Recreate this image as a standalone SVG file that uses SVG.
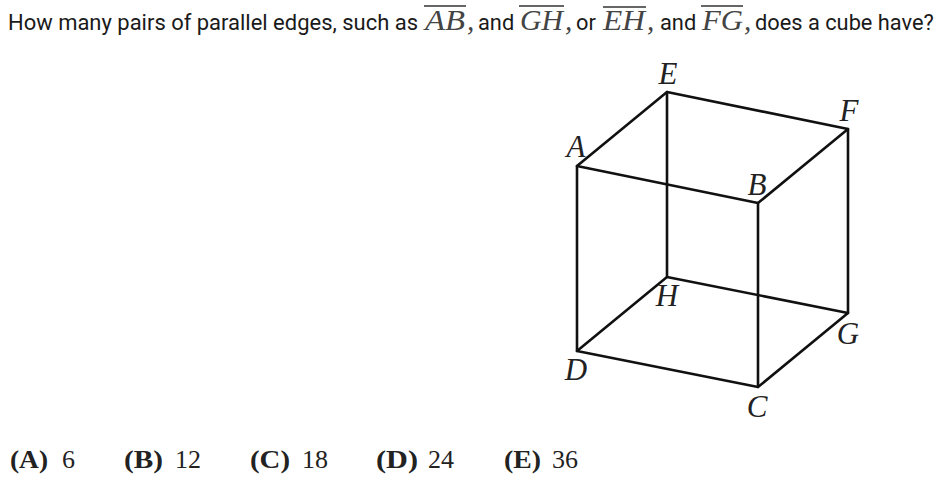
<svg xmlns="http://www.w3.org/2000/svg" width="944" height="482" viewBox="0 0 944 482">
<style>
.q{font-family:Roboto,"Liberation Sans",sans-serif;font-size:21.8px;fill:#1a1a1a}
.m{font-family:"Liberation Serif","Times New Roman",serif;font-style:italic;font-size:29px;fill:#444}
.l{font-family:"Liberation Serif","Times New Roman",serif;font-style:italic;font-size:31px;fill:#222;text-anchor:middle}
.c{font-family:"Liberation Serif","Times New Roman",serif;font-size:26px;fill:#222}
.b{font-weight:bold}
.o{stroke:#333;stroke-width:1.5}
.e{stroke:#111;stroke-width:2.6;stroke-linecap:round;stroke-linejoin:round;fill:none}
</style>
<rect width="944" height="482" fill="#fff"/>
<g id="question">
<text class="q" x="8" y="30" textLength="410" lengthAdjust="spacingAndGlyphs">How many pairs of parallel edges, such as</text>
<text class="m" x="425" y="30" textLength="40" lengthAdjust="spacingAndGlyphs">AB</text><line class="o" x1="424" y1="6" x2="466" y2="6"/>
<text class="m" x="467" y="30">,</text>
<text class="q" x="478" y="30">and</text>
<text class="m" x="520" y="30" textLength="43" lengthAdjust="spacingAndGlyphs">GH</text><line class="o" x1="519" y1="6" x2="564" y2="6"/>
<text class="m" x="565" y="30">,</text>
<text class="q" x="576" y="30">or</text>
<text class="m" x="603" y="30" textLength="42" lengthAdjust="spacingAndGlyphs">EH</text><line class="o" x1="603" y1="7" x2="646" y2="7"/>
<text class="m" x="647" y="30">,</text>
<text class="q" x="660" y="30">and</text>
<text class="m" x="702" y="30" textLength="41" lengthAdjust="spacingAndGlyphs">FG</text><line class="o" x1="701" y1="6" x2="743" y2="6"/>
<text class="m" x="744" y="30">,</text>
<text class="q" x="755" y="30">does a cube have?</text>
</g>
<g id="connectors">
<path class="e" d="M667 92L848 129L758 203L577 166Z"/>
<path class="e" d="M667 277L848 313L758 387L577 351Z"/>
<path class="e" d="M577 166V351M667 92V277M758 203V387M848 129V313"/>
</g>
<g id="node-a"><text class="l" x="576" y="157">A</text></g>
<g id="node-b"><text class="l" x="757" y="195">B</text></g>
<g id="node-c"><text class="l" x="757" y="417">C</text></g>
<g id="node-d"><text class="l" x="576" y="380">D</text></g>
<g id="node-e"><text class="l" x="668" y="84">E</text></g>
<g id="node-f"><text class="l" x="849" y="121">F</text></g>
<g id="node-g"><text class="l" x="848" y="344">G</text></g>
<g id="node-h"><text class="l" x="667" y="306">H</text></g>
<g id="choices">
<text class="c b" x="10" y="468" textLength="38" lengthAdjust="spacingAndGlyphs">(A)</text><text class="c" x="62" y="468">6</text>
<text class="c b" x="124" y="468" textLength="39" lengthAdjust="spacingAndGlyphs">(B)</text><text class="c" x="175" y="468">12</text>
<text class="c b" x="250" y="468" textLength="40" lengthAdjust="spacingAndGlyphs">(C)</text><text class="c" x="302" y="468">18</text>
<text class="c b" x="376" y="468" textLength="42" lengthAdjust="spacingAndGlyphs">(D)</text><text class="c" x="428" y="468">24</text>
<text class="c b" x="504" y="468" textLength="37" lengthAdjust="spacingAndGlyphs">(E)</text><text class="c" x="552" y="468">36</text>
</g>
</svg>
